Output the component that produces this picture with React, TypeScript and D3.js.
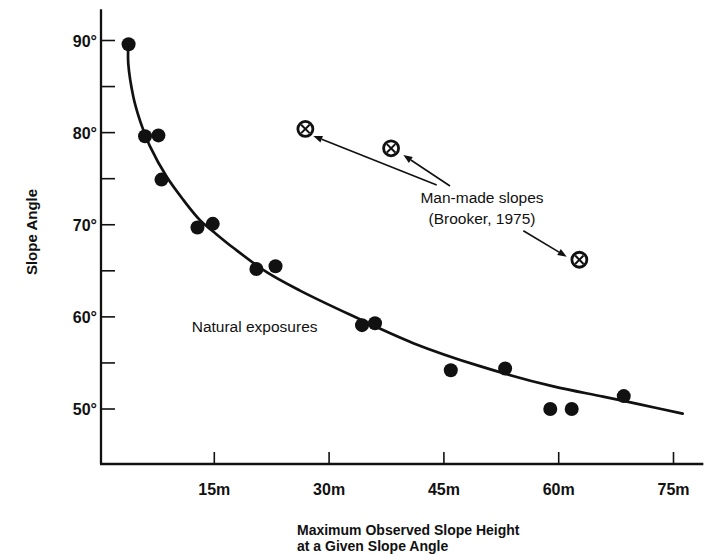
import React from "react";
import * as d3 from "d3";

// ---- data ----
const naturalHeight = [3.8, 5.95, 7.7, 8.1, 12.8, 14.8, 20.5, 23.0, 34.3, 36.0, 45.9, 53.0, 58.9, 61.7, 68.5];
const naturalAngle = [89.6, 79.6, 79.7, 74.9, 69.7, 70.1, 65.2, 65.5, 59.1, 59.3, 54.2, 54.4, 50.0, 50.0, 51.4];

const manMadeHeight = [26.9, 38.1, 62.7];
const manMadeAngle = [80.4, 78.3, 66.2];

const curveHeight = [3.76, 3.76, 4.42, 4.99, 5.72, 6.6, 8.78, 10.95, 13.13, 15.31, 17.48, 21.85, 26.2, 32.7, 41.0, 49.7, 59.3, 65.8, 70.6, 76.2];
const curveAngle = [89.4, 87.5, 83.9, 82.1, 80.3, 78.5, 75.2, 72.7, 70.5, 68.95, 67.5, 64.85, 62.85, 60.25, 57.15, 54.65, 52.45, 51.35, 50.5, 49.5];

const xTicks = [15, 30, 45, 60, 75];
const xTickLabels = ["15m", "30m", "45m", "60m", "75m"];
const yTicks = [50, 60, 70, 80, 90];
const yTickLabels = ["50°", "60°", "70°", "80°", "90°"];
const yMinorTicks = [55, 65, 75, 85];

// annotation arrows: [fromHeight, fromAngle] -> [toHeight, toAngle]
const arrowFrom = [[44.06, 74.31], [45.8, 74.21], [55.38, 69.35]];
const arrowTo = [[27.94, 79.63], [39.7, 77.57], [61.05, 66.53]];

const W = 710;
const H = 555;
const FONT = "'Liberation Sans', Arial, Helvetica, sans-serif";
const INK = "#111";

export default function App() {
  const x = d3.scaleLinear().domain([0, 75]).range([99.5, 673.5]);
  const y = d3.scaleLinear().domain([50, 90]).range([409, 40.5]);

  const axisX0 = 101;
  const axisY0 = 464;
  const axisTop = y(93.4);
  const axisRight = x(78.9);

  const curvePts: [number, number][] = curveHeight.map((h, i) => [h, curveAngle[i]]);
  const line = d3
    .line<[number, number]>()
    .x((d) => x(d[0]))
    .y((d) => y(d[1]))
    .curve(d3.curveCatmullRom.alpha(0.5));

  const arrows = arrowFrom.map((f, i) => {
    const x1 = x(f[0]);
    const y1 = y(f[1]);
    const x2 = x(arrowTo[i][0]);
    const y2 = y(arrowTo[i][1]);
    const ang = Math.atan2(y2 - y1, x2 - x1);
    const L = 9;
    const Wd = 3.5;
    const bx = x2 - L * Math.cos(ang);
    const by = y2 - L * Math.sin(ang);
    const p1 = [bx + Wd * Math.sin(ang), by - Wd * Math.cos(ang)];
    const p2 = [bx - Wd * Math.sin(ang), by + Wd * Math.cos(ang)];
    return { x1, y1, bx, by, x2, y2, head: `M${x2},${y2}L${p1[0]},${p1[1]}L${p2[0]},${p2[1]}Z` };
  });

  return (
    <svg
      width={W}
      height={H}
      style={{ position: "absolute", left: 0, top: 0, background: "#fff" }}
      fontFamily={FONT}
    >
      <rect x={0} y={0} width={W} height={H} fill="#fff" />

      {/* y axis */}
      <line x1={axisX0} y1={axisTop} x2={axisX0} y2={axisY0} stroke={INK} strokeWidth={2.3} />
      {yTicks.map((t, i) => (
        <g key={"yt" + t}>
          <line x1={axisX0} x2={axisX0 + 14} y1={y(t)} y2={y(t)} stroke={INK} strokeWidth={1.6} />
          <text x={97} y={y(t) + 6} textAnchor="end" fontSize={16} fontWeight="bold" fill={INK}>
            {yTickLabels[i]}
          </text>
        </g>
      ))}
      {yMinorTicks.map((t) => (
        <line key={"ym" + t} x1={axisX0} x2={axisX0 + 14} y1={y(t)} y2={y(t)} stroke={INK} strokeWidth={1.6} />
      ))}
      <text
        transform={`translate(37,232) rotate(-90)`}
        textAnchor="middle"
        fontSize={15}
        fontWeight="bold"
        fill={INK}
      >
        Slope Angle
      </text>

      {/* x axis */}
      <line x1={axisX0 - 1} y1={axisY0} x2={axisRight} y2={axisY0} stroke={INK} strokeWidth={2.3} />
      {xTicks.map((t, i) => (
        <g key={"xt" + t}>
          <line x1={x(t)} x2={x(t)} y1={axisY0} y2={axisY0 - 12} stroke={INK} strokeWidth={1.6} />
          <text x={x(t)} y={495} textAnchor="middle" fontSize={16} fontWeight="bold" fill={INK}>
            {xTickLabels[i]}
          </text>
        </g>
      ))}
      <text x={297} y={535} fontSize={14} fontWeight="bold" fill={INK}>
        Maximum Observed Slope Height
      </text>
      <text x={297} y={551} fontSize={14} fontWeight="bold" fill={INK}>
        at a Given Slope Angle
      </text>

      {/* fitted curve */}
      <path d={line(curvePts) || ""} fill="none" stroke={INK} strokeWidth={2.7} strokeLinecap="round" />

      {/* natural exposures */}
      {naturalHeight.map((h, i) => (
        <circle key={"n" + i} cx={x(h)} cy={y(naturalAngle[i])} r={7} fill={INK} />
      ))}
      <text x={x(12.05)} y={y(58.33)} fontSize={15.5} fill={INK}>
        Natural exposures
      </text>

      {/* man-made slopes */}
      {manMadeHeight.map((h, i) => {
        const cx = x(h);
        const cy = y(manMadeAngle[i]);
        const d = 4.2;
        return (
          <g key={"m" + i}>
            <circle cx={cx} cy={cy} r={7.5} fill="#fff" stroke={INK} strokeWidth={2.8} />
            <line x1={cx - d} y1={cy - d} x2={cx + d} y2={cy + d} stroke={INK} strokeWidth={2} />
            <line x1={cx - d} y1={cy + d} x2={cx + d} y2={cy - d} stroke={INK} strokeWidth={2} />
          </g>
        );
      })}
      {arrows.map((a, i) => (
        <g key={"a" + i}>
          <line x1={a.x1} y1={a.y1} x2={a.bx} y2={a.by} stroke={INK} strokeWidth={1.6} />
          <path d={a.head} fill={INK} />
        </g>
      ))}
      <text x={x(49.98)} y={y(72.36)} textAnchor="middle" fontSize={15.5} fill={INK}>
        Man-made slopes
      </text>
      <text x={x(49.98)} y={y(70.08)} textAnchor="middle" fontSize={15.5} fill={INK}>
        (Brooker, 1975)
      </text>
    </svg>
  );
}
